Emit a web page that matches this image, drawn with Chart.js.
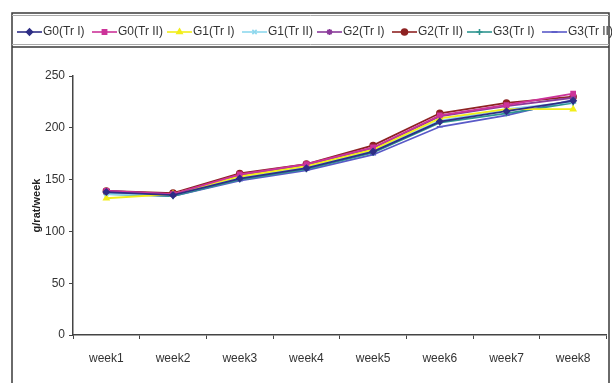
<!DOCTYPE html>
<html>
<head>
<meta charset="utf-8">
<script src="https://cdn.jsdelivr.net/npm/chart.js@4.4.1/dist/chart.umd.min.js"></script>
<style>
  html, body { margin: 0; padding: 0; background: #fff; }
  #wrap { width: 612px; height: 383px; position: relative; }
</style>
</head>
<body>
<div id="wrap"><canvas id="myChart" width="612" height="383"></canvas></div>
<script>
// categories and tick labels
var weeks = ['week1', 'week2', 'week3', 'week4', 'week5', 'week6', 'week7', 'week8'];
var yTicks = [0, 50, 100, 150, 200, 250];

// series values (g/rat/week)
var g0TrI  = [138, 135, 151, 161, 177, 206, 216, 226];
var g0TrII = [139, 136, 155, 165, 181, 212, 222, 233];
var g1TrI  = [132, 136, 153, 163, 179, 209, 218, 218];
var g1TrII = [136, 135, 152, 162, 178, 207, 218, 225];
var g2TrI  = [139, 136, 154, 164, 180, 211, 221, 229];
var g2TrII = [139, 137, 156, 165, 183, 214, 224, 230];
var g3TrI  = [136, 134, 150, 160, 176, 205, 214, 224];
var g3TrII = [137, 134, 149, 159, 174, 201, 212, 227];

var seriesNames = ['G0(Tr I)', 'G0(Tr II)', 'G1(Tr I)', 'G1(Tr II)', 'G2(Tr I)', 'G2(Tr II)', 'G3(Tr I)', 'G3(Tr II)'];
var seriesData = [g0TrI, g0TrII, g1TrI, g1TrII, g2TrI, g2TrII, g3TrI, g3TrII];
var seriesColors = ['#2e2e86', '#cc3399', '#f2ee1a', '#8fd8ee', '#8a3a9a', '#8e2222', '#2e9590', '#5a5ac8'];
var seriesPoints = ['rectRot', 'rect', 'triangle', 'crossRot', 'star', 'circle', 'cross', 'line'];

var FONT = "'Liberation Sans', Arial, sans-serif";

var datasets = seriesData.map(function(d, i) {
  return {
    label: seriesNames[i],
    data: d,
    borderColor: seriesColors[i],
    backgroundColor: seriesColors[i],
    borderWidth: 1.8,
    pointStyle: seriesPoints[i],
    pointRadius: 3,
    pointBorderWidth: 1.5,
    tension: 0
  };
});

// frame and legend drawn by hand, like the excel box
var framePlugin = {
  id: 'frame',
  afterDraw: function(chart) {
    var ctx = chart.ctx;
    ctx.save();
    ctx.strokeStyle = '#3a3a3a';
    ctx.lineWidth = 1.5;
    ctx.beginPath();
    ctx.moveTo(12, 383); ctx.lineTo(12, 13); ctx.lineTo(609, 13); ctx.lineTo(609, 383);
    ctx.moveTo(12, 47); ctx.lineTo(609, 47);
    ctx.stroke();
    ctx.strokeStyle = '#aaa';
    ctx.lineWidth = 1;
    ctx.beginPath();
    ctx.moveTo(12, 15.5); ctx.lineTo(609, 15.5);
    ctx.moveTo(12, 44.5); ctx.lineTo(609, 44.5);
    ctx.stroke();

    // legend
    ctx.font = '12px ' + FONT;
    ctx.textBaseline = 'middle';
    seriesNames.forEach(function(name, i) {
      var x = 17 + i * 75;
      var y = 32;
      ctx.strokeStyle = seriesColors[i];
      ctx.lineWidth = 1.6;
      ctx.beginPath();
      ctx.moveTo(x, y); ctx.lineTo(x + 25, y);
      ctx.stroke();
      ctx.fillStyle = seriesColors[i];
      Chart.helpers.drawPoint(ctx, {
        pointStyle: seriesPoints[i], radius: 3, rotation: 0, borderWidth: 1.5
      }, x + 12.5, y);
      ctx.fillStyle = '#333';
      ctx.fillText(name, x + 26, y);
    });
    ctx.restore();
  }
};

var ctx = document.getElementById('myChart').getContext('2d');
var chart = new Chart(ctx, {
  type: 'line',
  data: { labels: weeks, datasets: datasets },
  plugins: [framePlugin],
  options: {
    responsive: false,
    animation: false,
    layout: { padding: { top: 76, right: 5, left: 26, bottom: 0 } },
    plugins: {
      legend: { display: false },
      tooltip: { enabled: false }
    },
    scales: {
      x: {
        offset: true,
        grid: {
          offset: true,
          drawOnChartArea: false,
          drawTicks: true,
          tickLength: 4,
          color: '#444'
        },
        border: { color: '#444', width: 1.5 },
        ticks: {
          color: '#333',
          font: { family: FONT, size: 12 },
          padding: 12,
          maxRotation: 0
        },
        afterFit: function(s) { s.height = 48; }
      },
      y: {
        min: 0,
        max: 250,
        afterBuildTicks: function(s) {
          s.ticks = yTicks.map(function(v) { return { value: v }; });
        },
        grid: {
          drawOnChartArea: false,
          drawTicks: true,
          tickLength: 4,
          color: '#444'
        },
        border: { color: '#444', width: 1.5 },
        ticks: {
          color: '#333',
          font: { family: FONT, size: 12 },
          padding: 4
        },
        title: {
          display: true,
          text: 'g/rat/week',
          color: '#222',
          font: { family: FONT, size: 11, weight: 'bold' },
          padding: { top: 4, bottom: 4 }
        },
        afterFit: function(s) { s.width = 47; }
      }
    }
  }
});
</script>
</body>
</html>
